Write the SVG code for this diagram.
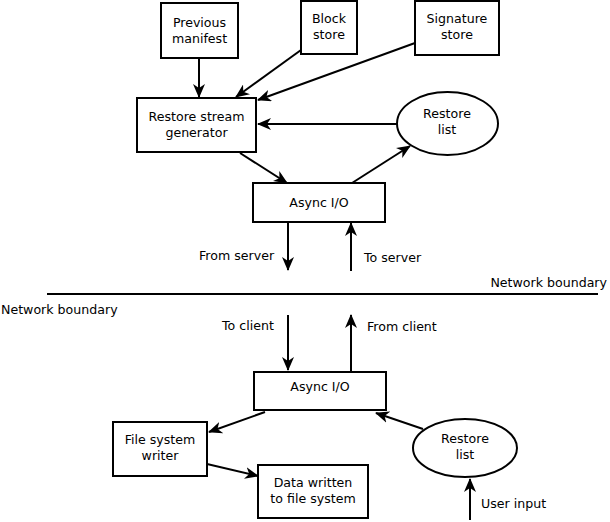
<svg xmlns="http://www.w3.org/2000/svg" width="610" height="522" viewBox="0 0 610 522">
<defs>
<style>
.box{fill:#fff;stroke:#000;stroke-width:2}
.c{fill:none;stroke:#000;stroke-width:2;marker-end:url(#ah)}
text{font-family:"DejaVu Sans",sans-serif;font-size:12.6px;fill:#000}
.m{text-anchor:middle}
</style>
<marker id="ah" viewBox="0 0 14 12" refX="13" refY="6" markerWidth="14" markerHeight="12" markerUnits="userSpaceOnUse" orient="auto">
<path d="M0,0 L14,6 L0,12 L4,6 Z" fill="#000"/>
</marker>
</defs>
<rect width="610" height="522" fill="#fff"/>
<g id="connectors">
<line class="c" x1="199" y1="58" x2="199" y2="97"/>
<line class="c" x1="301" y1="50" x2="236" y2="97"/>
<line class="c" x1="415" y1="43" x2="258" y2="100"/>
<line class="c" x1="397" y1="124" x2="258" y2="124"/>
<line class="c" x1="240" y1="153" x2="287" y2="183"/>
<line class="c" x1="352" y1="183" x2="410" y2="146"/>
<line class="c" x1="288" y1="222" x2="288" y2="270"/>
<line class="c" x1="351" y1="271" x2="351" y2="223"/>
<line class="c" x1="288" y1="315" x2="288" y2="370"/>
<line class="c" x1="351" y1="372" x2="351" y2="315"/>
<line class="c" x1="265" y1="412" x2="209" y2="432"/>
<line class="c" x1="207" y1="464" x2="258" y2="476"/>
<line class="c" x1="423" y1="429" x2="376" y2="413"/>
<line class="c" x1="470" y1="520" x2="470" y2="479"/>
</g>
<g id="boundary">
<line x1="47" y1="294" x2="598" y2="294" stroke="#000" stroke-width="2"/>
<text x="607" y="287" text-anchor="end">Network boundary</text>
<text x="1" y="314">Network boundary</text>
</g>
<g id="previous-manifest"><rect class="box" x="161" y="3" width="77" height="55"/><text class="m" x="199.5" y="27">Previous</text><text class="m" x="199.5" y="43">manifest</text></g>
<g id="block-store"><rect class="box" x="301" y="1" width="56" height="53"/><text class="m" x="329" y="23">Block</text><text class="m" x="329" y="39">store</text></g>
<g id="signature-store"><rect class="box" x="415" y="1" width="84" height="54"/><text class="m" x="457" y="23">Signature</text><text class="m" x="457" y="39">store</text></g>
<g id="restore-stream-generator"><rect class="box" x="137" y="98" width="119" height="54"/><text class="m" x="196.5" y="121">Restore stream</text><text class="m" x="196.5" y="137">generator</text></g>
<g id="restore-list-top"><ellipse class="box" cx="447.5" cy="123.5" rx="50.5" ry="31.5"/><text class="m" x="447" y="118">Restore</text><text class="m" x="447" y="134">list</text></g>
<g id="async-io-top"><rect class="box" x="253" y="183" width="132" height="39"/><text class="m" x="319" y="207">Async I/O</text></g>
<g id="labels-top"><text x="199" y="260">From server</text><text x="364" y="262">To server</text></g>
<g id="labels-bottom"><text x="222" y="330">To client</text><text x="367" y="331">From client</text><text x="481" y="508">User input</text></g>
<g id="async-io-bottom"><rect class="box" x="254" y="372" width="132" height="38"/><text class="m" x="320" y="391">Async I/O</text></g>
<g id="file-system-writer"><rect class="box" x="113" y="422" width="94" height="54"/><text class="m" x="160" y="444">File system</text><text class="m" x="160" y="460">writer</text></g>
<g id="data-written"><rect class="box" x="258" y="465" width="110" height="53"/><text class="m" x="313" y="487">Data written</text><text class="m" x="313" y="503">to file system</text></g>
<g id="restore-list-bottom"><ellipse class="box" cx="465" cy="448" rx="52" ry="29"/><text class="m" x="465" y="443">Restore</text><text class="m" x="465" y="459">list</text></g>
</svg>
